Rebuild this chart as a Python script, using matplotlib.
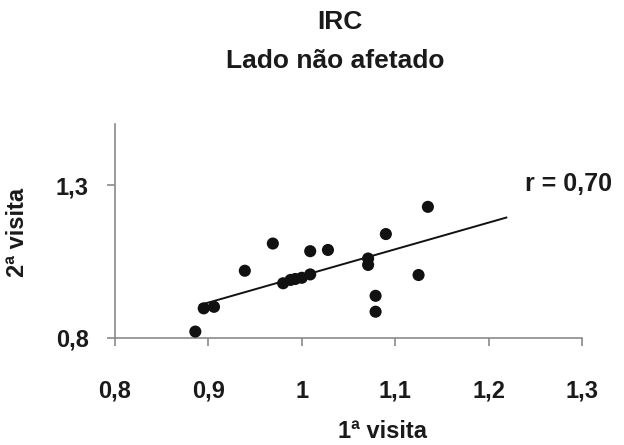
import numpy as np
import matplotlib
matplotlib.use("Agg")
import matplotlib.pyplot as plt

plt.rcParams['font.family'] = ['Liberation Sans', 'DejaVu Sans']
plt.rcParams['font.weight'] = 'bold'

# 1a visita vs 2a visita
visita1 = [0.886, 0.895, 0.906, 0.939, 0.969, 0.980, 0.988, 0.993, 1.000,
           1.009, 1.009, 1.028, 1.071, 1.071, 1.090, 1.079, 1.079, 1.125, 1.135]
visita2 = [0.821, 0.897, 0.902, 1.020, 1.109, 0.979, 0.990, 0.993, 0.997,
           1.008, 1.084, 1.088, 1.060, 1.039, 1.140, 0.938, 0.886, 1.006, 1.229]

# regression line ends
trend_x = [0.891, 1.219]
trend_y = [0.908, 1.194]

xticks = [0.8, 0.9, 1.0, 1.1, 1.2, 1.3]
xticklabels = ['0,8', '0,9', '1', '1,1', '1,2', '1,3']
yticks = [0.8, 1.3]
yticklabels = ['0,8', '1,3']

W, H = 624, 445
fig = plt.figure(figsize=(W / 100, H / 100), dpi=100)
ax = fig.add_axes([115 / W, 1 - 338 / H, (582 - 115) / W, (338 - 124) / H])

ax.plot(trend_x, trend_y, color='#111111', lw=1.4, zorder=2)
ax.scatter(visita1, visita2, s=76, color='#111111', edgecolors='none', zorder=3)

ax.set_xlim(0.8, 1.3)
ax.set_ylim(0.8, 1.5)
ax.set_xticks(xticks)
ax.set_xticklabels(xticklabels)
ax.set_yticks(yticks)
ax.set_yticklabels(yticklabels)

for s in ['top', 'right']:
    ax.spines[s].set_visible(False)
for s in ['left', 'bottom']:
    ax.spines[s].set_color('#8a8a8a')
    ax.spines[s].set_linewidth(1.2)

ax.tick_params(axis='x', direction='out', length=6, width=1.2, color='#8a8a8a',
               pad=24, labelsize=17, labelcolor='#1a1a1a')
ax.tick_params(axis='y', direction='out', length=6, width=1.2, color='#8a8a8a',
               pad=13, labelsize=17, labelcolor='#1a1a1a')
for lab in ax.get_xticklabels() + ax.get_yticklabels():
    lab.set_fontweight('bold')

def px(x, y):
    return x / W, 1 - y / H

fig.text(*px(340, 22), 'IRC', ha='center', va='center', fontsize=19,
         fontweight='bold', color='#1a1a1a')
fig.text(*px(335, 61), 'Lado não afetado', ha='center', va='center', fontsize=19,
         fontweight='bold', color='#1a1a1a')
fig.text(*px(525, 184), 'r = 0,70', ha='left', va='center', fontsize=18,
         fontweight='bold', color='#1a1a1a')
fig.text(*px(18, 232), '2ª visita', ha='center', va='center', rotation=90,
         fontsize=17, fontweight='bold', color='#1a1a1a')
fig.text(*px(382, 438), '1ª visita', ha='center', va='baseline', fontsize=17,
         fontweight='bold', color='#1a1a1a')

fig.savefig('out.png', dpi=100)
